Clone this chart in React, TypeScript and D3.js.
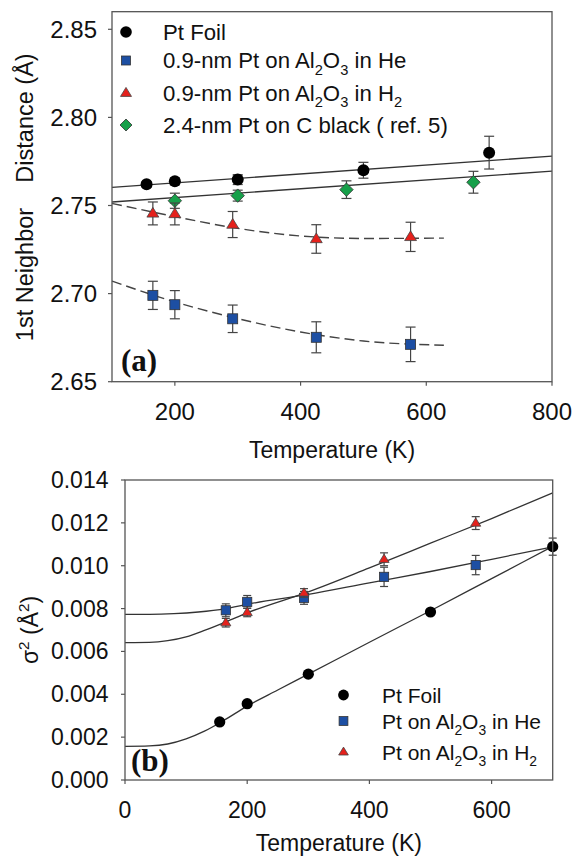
import React from 'react';
import * as d3 from 'd3';

// ---------- Panel (a): first-neighbor distance ----------
const aXTicks = [200, 400, 600, 800];
const aYTicks = [2.65, 2.7, 2.75, 2.8, 2.85];

const aFoilT = [155, 200, 300, 500, 700];
const aFoilR = [2.762, 2.7637, 2.7647, 2.77, 2.78];
const aFoilErr = [0.0015, 0.002, 0.0028, 0.0045, 0.0093];

const aHeT = [165, 200, 292, 425, 575];
const aHeR = [2.699, 2.6937, 2.6857, 2.6752, 2.6712];
const aHeErr = [0.008, 0.008, 0.0078, 0.0088, 0.0098];

const aH2T = [165, 200, 292, 425, 575];
const aH2R = [2.7455, 2.7452, 2.7392, 2.731, 2.7322];
const aH2Err = [0.0065, 0.0062, 0.0074, 0.0081, 0.0083];

const aCT = [200, 300, 473, 675];
const aCR = [2.7527, 2.7556, 2.759, 2.7632];
const aCErr = [0.0043, 0.0031, 0.005, 0.0062];

// fitted curves
const aFoilFitT = [100, 800];
const aFoilFitR = [2.7603, 2.778];
const aCFitT = [100, 800];
const aCFitR = [2.752, 2.7695];
const aH2FitT = [100, 200, 300, 400, 500, 628];
const aH2FitR = [2.7512, 2.7437, 2.737, 2.7327, 2.7313, 2.7315];
const aHeFitT = [100, 200, 300, 400, 500, 628];
const aHeFitR = [2.7071, 2.6953, 2.6858, 2.6782, 2.6731, 2.6707];

// ---------- Panel (b): sigma^2 ----------
const bXTicks = [0, 200, 400, 600];
const bYTicks = [0, 0.002, 0.004, 0.006, 0.008, 0.01, 0.012, 0.014];

const bFoilT = [155, 200, 300, 500, 700];
const bFoilS = [0.00271, 0.00356, 0.00494, 0.00784, 0.01089];
const bFoilErr = [0.0001, 0.0001, 0.0001, 0.0001, 0.0004];

const bHeT = [165, 200, 293, 424, 574];
const bHeS = [0.00792, 0.00831, 0.0085, 0.00948, 0.01003];
const bHeErr = [0.0003, 0.0003, 0.0003, 0.00045, 0.00045];

const bH2T = [165, 200, 293, 424, 574];
const bH2S = [0.00734, 0.00782, 0.00873, 0.0103, 0.01199];
const bH2Err = [0.0002, 0.0002, 0.0002, 0.0003, 0.0003];

// fitted curves
const bFoilFitT = [0, 40, 70, 100, 130, 160, 200, 250, 300, 400, 500, 600, 700];
const bFoilFitS = [0.00157, 0.00159, 0.00168, 0.00192, 0.00228, 0.00275, 0.00345, 0.0042, 0.00494, 0.00643, 0.0079, 0.0094, 0.0109];
const bHeFitT = [0, 40, 80, 120, 165, 200, 300, 400, 500, 600, 700];
const bHeFitS = [0.00773, 0.00773, 0.00776, 0.00784, 0.008, 0.0082, 0.00866, 0.0092, 0.00973, 0.0103, 0.01088];
const bH2FitT = [0, 40, 70, 100, 130, 165, 200, 300, 400, 500, 600, 700];
const bH2FitS = [0.00641, 0.00642, 0.0065, 0.00668, 0.00698, 0.00738, 0.0078, 0.00878, 0.0099, 0.01105, 0.0122, 0.0134];

const FONT = "'Liberation Sans', Arial, Helvetica, sans-serif";
const SERIF = "'Liberation Serif', 'Times New Roman', serif";
const BLUE = '#1d4fa3';
const RED = '#e5211c';
const GREEN = '#17a04a';
const FRAME = '#555';

type Part = { t: string; sub?: boolean; sup?: boolean };

function Rich({ x, y, parts, size, anchor = 'start', transform }: { x: number; y: number; parts: Part[]; size: number; anchor?: string; transform?: string }) {
  let cur = 0;
  const spans = parts.map((p, i) => {
    const target = p.sub ? size * 0.3 : p.sup ? -size * 0.4 : 0;
    const dy = target - cur;
    cur = target;
    return (
      <tspan key={i} dy={dy} fontSize={p.sub || p.sup ? size * 0.66 : size}>
        {p.t}
      </tspan>
    );
  });
  return (
    <text x={x} y={y} fontFamily={FONT} fontSize={size} textAnchor={anchor} fill="#111" transform={transform}>
      {spans}
    </text>
  );
}

type Shape = 'circle' | 'square' | 'triangle' | 'diamond';

function Marker({ shape, x, y, s }: { shape: Shape; x: number; y: number; s: number }) {
  if (shape === 'circle') return <circle cx={x} cy={y} r={s} fill="#000" />;
  if (shape === 'square')
    return <rect x={x - s} y={y - s} width={2 * s} height={2 * s} fill={BLUE} stroke="#333" strokeWidth={0.8} />;
  if (shape === 'triangle') {
    const h = s * 1.8;
    const pts = [
      [x, y - h * 0.62],
      [x + s * 1.1, y + h * 0.38],
      [x - s * 1.1, y + h * 0.38],
    ];
    return <polygon points={pts.map((p) => p.join(',')).join(' ')} fill={RED} stroke="#444" strokeWidth={0.8} />;
  }
  const d = s * 1.2;
  return (
    <polygon
      points={`${x},${y - d} ${x + d},${y} ${x},${y + d} ${x - d},${y}`}
      fill={GREEN}
      stroke="#333"
      strokeWidth={0.8}
    />
  );
}

function Series({ T, V, E, xs, ys, shape, s, cap }: any) {
  return (
    <g>
      {T.map((t: number, i: number) => {
        const x = xs(t);
        const y1 = ys(V[i] + E[i]);
        const y2 = ys(V[i] - E[i]);
        return (
          <g key={'e' + i} stroke="#444" strokeWidth={1.2}>
            <line x1={x} x2={x} y1={y1} y2={y2} />
            <line x1={x - cap} x2={x + cap} y1={y1} y2={y1} />
            <line x1={x - cap} x2={x + cap} y1={y2} y2={y2} />
          </g>
        );
      })}
      {T.map((t: number, i: number) => (
        <Marker key={'m' + i} shape={shape} x={xs(t)} y={ys(V[i])} s={s} />
      ))}
    </g>
  );
}

export default function App() {
  // panel (a) scales
  const xA = d3.scaleLinear().domain([100, 800]).range([112, 552]);
  const yA = d3.scaleLinear().domain([2.65, 2.85]).range([381.7, 29.3]);
  const aTop = yA(2.86);
  // panel (b) scales
  const xB = d3.scaleLinear().domain([0, 700]).range([125, 552.7]);
  const yB = d3.scaleLinear().domain([0, 0.014]).range([780, 480]);

  const lineA = (T: number[], R: number[], curve = d3.curveLinear) =>
    d3.line<number>().x((t) => xA(t)).y((_, i) => yA(R[i])).curve(curve)(T) || '';
  const lineB = (T: number[], S: number[]) =>
    d3.line<number>().x((t) => xB(t)).y((_, i) => yB(S[i])).curve(d3.curveMonotoneX)(T) || '';

  const fmtA = d3.format('.2f');
  const fmtB = d3.format('.3f');

  const legendA: { shape: Shape; y: number; parts: Part[] }[] = [
    { shape: 'circle', y: 32, parts: [{ t: 'Pt Foil' }] },
    { shape: 'square', y: 60.5, parts: [{ t: '0.9-nm Pt on Al' }, { t: '2', sub: true }, { t: 'O' }, { t: '3', sub: true }, { t: ' in He' }] },
    { shape: 'triangle', y: 93, parts: [{ t: '0.9-nm Pt on Al' }, { t: '2', sub: true }, { t: 'O' }, { t: '3', sub: true }, { t: ' in H' }, { t: '2', sub: true }] },
    { shape: 'diamond', y: 125, parts: [{ t: '2.4-nm Pt on C black ( ref. 5)' }] },
  ];
  const legendB: { shape: Shape; y: number; parts: Part[] }[] = [
    { shape: 'circle', y: 695, parts: [{ t: 'Pt Foil' }] },
    { shape: 'square', y: 721, parts: [{ t: 'Pt on Al' }, { t: '2', sub: true }, { t: 'O' }, { t: '3', sub: true }, { t: ' in He' }] },
    { shape: 'triangle', y: 752, parts: [{ t: 'Pt on Al' }, { t: '2', sub: true }, { t: 'O' }, { t: '3', sub: true }, { t: ' in H' }, { t: '2', sub: true }] },
  ];

  return (
    <svg width={575} height={857} style={{ position: 'absolute', left: 0, top: 0, background: '#fff' }}>
      <rect width={575} height={857} fill="#fff" />
      {/* ================= Panel (a) ================= */}
      <g>
        {/* fit lines */}
        <path d={lineA(aFoilFitT, aFoilFitR)} fill="none" stroke="#333" strokeWidth={1.4} />
        <path d={lineA(aCFitT, aCFitR)} fill="none" stroke="#333" strokeWidth={1.4} />
        <path d={lineA(aH2FitT, aH2FitR, d3.curveMonotoneX)} fill="none" stroke="#444" strokeWidth={1.4} strokeDasharray="10,5" />
        <path d={lineA(aHeFitT, aHeFitR, d3.curveMonotoneX)} fill="none" stroke="#444" strokeWidth={1.4} strokeDasharray="10,5" />

        <Series T={aFoilT} V={aFoilR} E={aFoilErr} xs={xA} ys={yA} shape="circle" s={6} cap={5} />
        <Series T={aCT} V={aCR} E={aCErr} xs={xA} ys={yA} shape="diamond" s={5.6} cap={5} />
        <Series T={aH2T} V={aH2R} E={aH2Err} xs={xA} ys={yA} shape="triangle" s={5.4} cap={5} />
        <Series T={aHeT} V={aHeR} E={aHeErr} xs={xA} ys={yA} shape="square" s={5} cap={5} />

        {/* frame */}
        <rect x={xA(100)} y={aTop} width={xA(800) - xA(100)} height={yA(2.65) - aTop} fill="none" stroke={FRAME} strokeWidth={1.3} />
        {aYTicks.map((v) => (
          <g key={v}>
            <line x1={xA(100) - 4} x2={xA(100)} y1={yA(v)} y2={yA(v)} stroke={FRAME} strokeWidth={1.2} />
            <text x={97} y={yA(v)} dy="0.35em" textAnchor="end" fontFamily={FONT} fontSize={24} fill="#111">
              {fmtA(v)}
            </text>
          </g>
        ))}
        {aXTicks.map((v) => (
          <g key={v}>
            <line x1={xA(v)} x2={xA(v)} y1={yA(2.65)} y2={yA(2.65) + 4} stroke={FRAME} strokeWidth={1.2} />
            <text x={xA(v)} y={412} dy="0.35em" textAnchor="middle" fontFamily={FONT} fontSize={24} fill="#111">
              {v}
            </text>
          </g>
        ))}
        <text x={(xA(100) + xA(800)) / 2} y={450} dy="0.35em" textAnchor="middle" fontFamily={FONT} fontSize={23} fill="#111">
          Temperature (K)
        </text>
        <text transform="translate(25,118) rotate(-90)" textAnchor="middle" dominantBaseline="central" fontFamily={FONT} fontSize={23.5} fill="#111">
          Distance (Å)
        </text>
        <text transform="translate(25,274.5) rotate(-90)" textAnchor="middle" dominantBaseline="central" fontFamily={FONT} fontSize={23.5} fill="#111">
          1st Neighbor
        </text>
        <text x={121} y={371} fontFamily={SERIF} fontWeight="bold" fontSize={31} fill="#111">
          (a)
        </text>
        {/* legend */}
        {legendA.map((l, i) => (
          <g key={i}>
            <Marker shape={l.shape} x={126} y={l.y} s={l.shape === 'circle' ? 5.8 : l.shape === 'square' ? 4.5 : 5} />
            <Rich x={163} y={l.y + 7.8} parts={l.parts} size={22.2} />
          </g>
        ))}
      </g>

      {/* ================= Panel (b) ================= */}
      <g>
        <path d={lineB(bFoilFitT, bFoilFitS)} fill="none" stroke="#333" strokeWidth={1.3} />
        <path d={lineB(bHeFitT, bHeFitS)} fill="none" stroke="#333" strokeWidth={1.3} />
        <path d={lineB(bH2FitT, bH2FitS)} fill="none" stroke="#333" strokeWidth={1.3} />

        <Series T={bFoilT} V={bFoilS} E={bFoilErr} xs={xB} ys={yB} shape="circle" s={5.6} cap={4} />
        <Series T={bHeT} V={bHeS} E={bHeErr} xs={xB} ys={yB} shape="square" s={4.6} cap={4} />
        <Series T={bH2T} V={bH2S} E={bH2Err} xs={xB} ys={yB} shape="triangle" s={4.6} cap={4} />

        <rect x={xB(0)} y={yB(0.014)} width={xB(700) - xB(0)} height={yB(0) - yB(0.014)} fill="none" stroke={FRAME} strokeWidth={1.3} />
        {bYTicks.map((v) => (
          <g key={v}>
            <line x1={xB(0) - 4} x2={xB(0)} y1={yB(v)} y2={yB(v)} stroke={FRAME} strokeWidth={1.2} />
            <text x={108.5} y={yB(v)} dy="0.35em" textAnchor="end" fontFamily={FONT} fontSize={23} fill="#111">
              {fmtB(v)}
            </text>
          </g>
        ))}
        {bXTicks.map((v) => (
          <g key={v}>
            <line x1={xB(v)} x2={xB(v)} y1={yB(0)} y2={yB(0) + 4} stroke={FRAME} strokeWidth={1.2} />
            <text x={xB(v)} y={810} dy="0.35em" textAnchor="middle" fontFamily={FONT} fontSize={23} fill="#111">
              {v}
            </text>
          </g>
        ))}
        <text x={(xB(0) + xB(700)) / 2} y={843} dy="0.35em" textAnchor="middle" fontFamily={FONT} fontSize={23} fill="#111">
          Temperature (K)
        </text>
        <g transform="translate(38,630) rotate(-90)">
          <Rich x={0} y={0} parts={[{ t: 'σ' }, { t: '2', sup: true }, { t: ' (Å' }, { t: '2', sup: true }, { t: ')' }]} size={23} anchor="middle" />
        </g>
        <text x={131} y={771} fontFamily={SERIF} fontWeight="bold" fontSize={31} fill="#111">
          (b)
        </text>
        {legendB.map((l, i) => (
          <g key={i}>
            <Marker shape={l.shape} x={343.5} y={l.y} s={l.shape === 'circle' ? 5.4 : 4.4} />
            <Rich x={382} y={l.y + 7.5} parts={l.parts} size={21} />
          </g>
        ))}
      </g>
    </svg>
  );
}
